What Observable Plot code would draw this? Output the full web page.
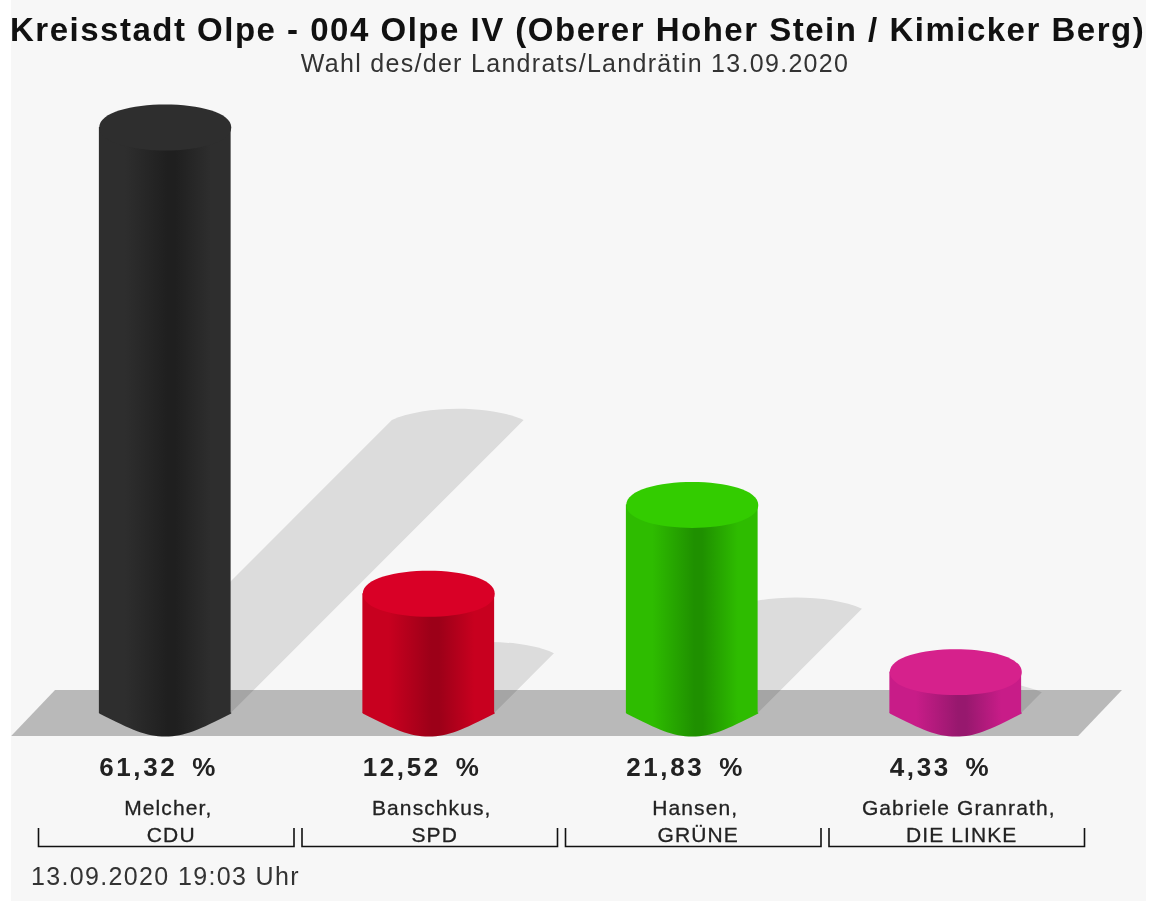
<!DOCTYPE html>
<html lang="de"><head><meta charset="utf-8">
<script src="https://cdn.jsdelivr.net/npm/d3@7"></script>
<script src="https://cdn.jsdelivr.net/npm/@observablehq/plot@0.6"></script>
<style>
html,body{margin:0;padding:0;background:#fff;width:1152px;height:901px;overflow:hidden}
#panel{position:absolute;left:11px;top:0;width:1135px;height:901px;background:#f7f7f7;overflow:hidden;font-family:"Liberation Sans",Arial,sans-serif;filter:blur(0.5px)}
#title{position:absolute;left:-1px;top:11px;white-space:nowrap;font-weight:bold;font-size:33px;line-height:38px;letter-spacing:1.5px;color:#111}
#subtitle{position:absolute;left:0;width:1128px;top:48px;text-align:center;font-size:25px;line-height:30px;letter-spacing:1.3px;color:#333;white-space:nowrap}
#footer{position:absolute;left:20px;top:861px;font-size:25px;line-height:30px;letter-spacing:1.35px;color:#333;white-space:nowrap}
#chart{position:absolute;left:-11px;top:80px;width:1152px;height:780px}
#chart svg{background:transparent;display:block;overflow:visible;max-width:none!important;width:1152px;height:780px}
</style></head><body>
<div id="panel">
<div id="title"></div><div id="subtitle"></div><div id="footer"></div>
<div id="chart"></div>
</div>
<script>
const titleText = "Kreisstadt Olpe - 004 Olpe IV (Oberer Hoher Stein / Kimicker Berg)";
const subtitleText = "Wahl des/der Landrats/Landrätin 13.09.2020";
const footerText = "13.09.2020 19:03 Uhr";
const candidates = ["Melcher,", "Banschkus,", "Hansen,", "Gabriele Granrath,"];
const parties = ["CDU", "SPD", "GRÜNE", "DIE LINKE"];
const shares = [61.32, 12.52, 21.83, 4.33];
const shareLabels = ["61,32 %", "12,52 %", "21,83 %", "4,33 %"];
const capColors = ["#2e2e2e", "#d90026", "#33cc00", "#d6218c"];
const sideColors = ["#2e2e2e", "#c8001f", "#2ebc00", "#c81c88"];
const shadeColors = ["#1f1f1f", "#9c0018", "#1f9000", "#97186e"];

const rows = candidates.map((name, i) => ({
  name, party: parties[i], share: shares[i], label: shareLabels[i], cap: capColors[i],
  side: `url(#side${i})`
}));

document.getElementById("title").textContent = titleText;
document.getElementById("subtitle").textContent = subtitleText;
document.getElementById("footer").textContent = footerText;

const aspect = 23 / 66;
const spaced = (px, word = 0) => (index, scales, values, dims, ctx, next) => {
  const g = next(index, scales, values, dims, ctx);
  g.style.letterSpacing = px + "px";
  g.style.wordSpacing = word + "px";
  return g;
};

const capSymbol = {draw(ctx, size) {
  const r = Math.sqrt(size / Math.PI), ry = r * aspect;
  ctx.moveTo(-r, 0);
  ctx.bezierCurveTo(-r, -ry * 1.333, r, -ry * 1.333, r, 0);
  ctx.bezierCurveTo(r, ry * 1.333, -r, ry * 1.333, -r, 0);
  ctx.closePath();
}};
const baseSymbol = {draw(ctx, size) {
  const r = Math.sqrt(size / Math.PI), ry = r * aspect;
  ctx.moveTo(-r, -1);
  ctx.lineTo(-r, 0);
  ctx.bezierCurveTo(-r * 0.5, ry * 0.72, -r * 0.3, ry, 0, ry);
  ctx.bezierCurveTo(r * 0.3, ry, r * 0.5, ry * 0.72, r, 0);
  ctx.lineTo(r, -1);
  ctx.closePath();
}};

function defsMark() {
  const defs = d3.create("svg:defs");
  sideColors.forEach((edge, i) => {
    const g = defs.append("linearGradient").attr("id", `side${i}`);
    [[0, edge], [0.2, edge], [0.52, shadeColors[i]], [0.58, shadeColors[i]], [0.85, edge], [1, edge]]
      .forEach(([o, c]) => g.append("stop").attr("offset", o).attr("stop-color", c));
  });
  return defs.node();
}

function floorMark(index, {x, y}) {
  const bw = x.bandwidth(), ry = bw / 2 * aspect, base = y(0);
  const left = x(candidates[0]), right = x(candidates[candidates.length - 1]) + bw;
  const shear = ry * 2 * 0.955;
  const x0 = left - shear * 2, x1 = right + 57;
  const p = d3.path();
  p.moveTo(x0, base + ry);
  p.lineTo(x0 + shear, base - ry);
  p.lineTo(x1 + shear, base - ry);
  p.lineTo(x1, base + ry);
  p.closePath();
  return d3.create("svg:path").attr("d", p.toString()).attr("fill", "#b9b9b9").node();
}

function shadowMark(index, {x, y}) {
  const bw = x.bandwidth(), base = y(0);
  const g = d3.create("svg:g").attr("fill", "#e4e4e4");
  rows.forEach(d => {
    const h = base - y(d.share), off = h / 2;
    const lx = x(d.name), p = d3.path();
    const tx = lx + off, ty = base - off;
    p.moveTo(lx, base);
    p.lineTo(tx, ty);
    p.bezierCurveTo(tx + bw * 0.25, ty - 15, tx + bw * 0.75, ty - 15, tx + bw, ty);
    p.lineTo(lx + bw, base);
    p.closePath();
    g.append("path").attr("d", p.toString()).style("mix-blend-mode", "multiply");
  });
  return g.node();
}

function bracketMark(index, {x}) {
  const bw = x.bandwidth();
  const half = x.step() / 2 - 4;
  const g = d3.create("svg:g").attr("fill", "none").attr("stroke", "#111").attr("stroke-width", 1.6);
  rows.forEach(d => {
    const c = x(d.name) + bw / 2 + 1.5;
    g.append("path").attr("d", `M${c - half},748V766.5H${c + half}V748`);
  });
  return g.node();
}

const chart = Plot.plot({
  width: 1152, height: 780,
  marginTop: 0, marginBottom: 0, marginLeft: 0, marginRight: 0,
  style: {background: "transparent", overflow: "visible"},
  x: {type: "band", domain: candidates, range: [33, 1087], paddingInner: 0.5, paddingOuter: 0.25, round: false, axis: null},
  y: {domain: [0, 61.32], range: [633, 47], axis: null},
  marks: [
    defsMark,
    floorMark,
    shadowMark,
    Plot.barY(rows, {x: "name", y: "share", fill: "side"}),
    Plot.dot(rows, {x: "name", y: () => 0, r: 66, symbol: baseSymbol, fill: "side", stroke: "none"}),
    Plot.dot(rows, {x: "name", y: "share", r: 66, symbol: capSymbol, fill: "cap", stroke: "none"}),
    Plot.text(rows, {x: "name", text: "label", frameAnchor: "top", dy: 695, dx: -66, textAnchor: "start", lineAnchor: "bottom",
      fontSize: 26, fontWeight: "bold", fill: "#222", fontFamily: "Liberation Sans", render: spaced(2.6, 5)}),
    Plot.text(rows, {x: "name", text: "name", frameAnchor: "top", dy: 734, dx: 3, lineAnchor: "bottom",
      fontSize: 21, fill: "#222", stroke: "#222", strokeWidth: 0.3, fontFamily: "Liberation Sans", render: spaced(1.1)}),
    Plot.text(rows, {x: "name", text: "party", frameAnchor: "top", dy: 761, dx: 6, lineAnchor: "bottom",
      fontSize: 21, fill: "#222", stroke: "#222", strokeWidth: 0.3, fontFamily: "Liberation Sans", render: spaced(1.1)}),
    bracketMark
  ]
});
document.getElementById("chart").appendChild(chart);
</script>
</body></html>
